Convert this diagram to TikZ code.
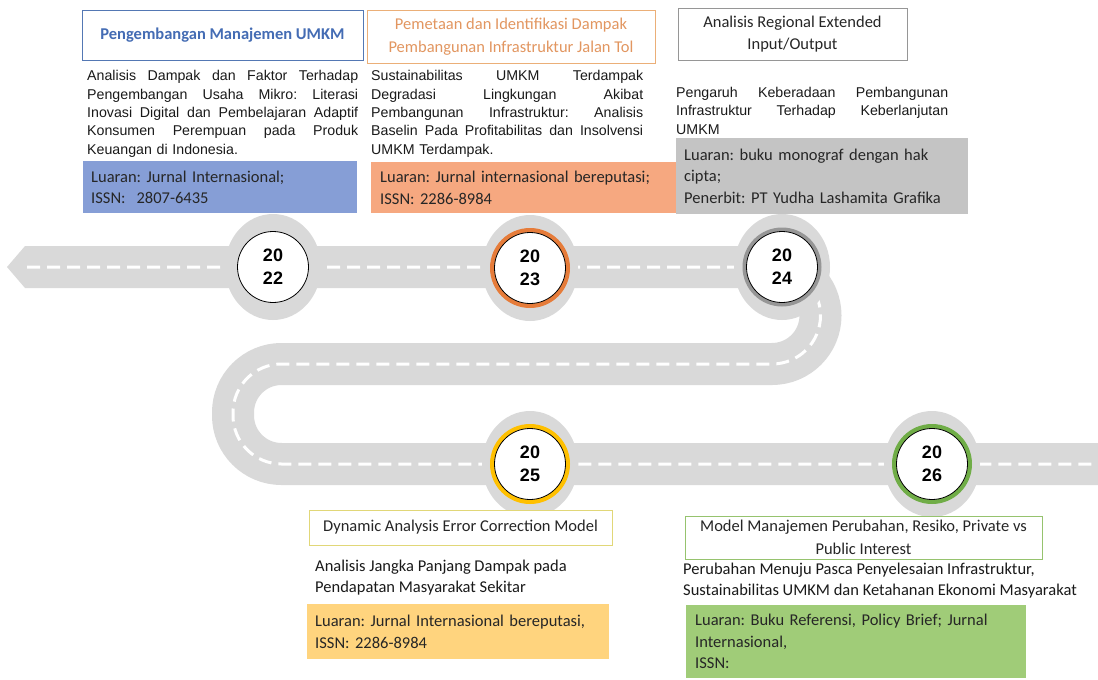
\documentclass[tikz,border=0pt]{standalone}
\usepackage{fontspec}
\setmainfont{Carlito}
\newfontfamily\bodyfont{Liberation Sans}
\usepackage{xcolor}
\usepackage{tikz}
\usetikzlibrary{positioning, calc}
\frenchspacing

\definecolor{roadgray}{RGB}{217,217,217}
\definecolor{bluefill}{RGB}{134,158,214}
\definecolor{bluedraw}{RGB}{84,120,180}
\definecolor{bluetext}{RGB}{68,108,180}
\definecolor{orangefill}{RGB}{246,168,128}
\definecolor{orangedraw}{RGB}{235,175,120}
\definecolor{orangetext}{RGB}{226,150,96}
\definecolor{orangering}{RGB}{230,124,58}
\definecolor{grayfill}{RGB}{196,196,196}
\definecolor{graydraw}{RGB}{150,150,150}
\definecolor{grayring}{RGB}{150,150,150}
\definecolor{yellowfill}{RGB}{255,212,126}
\definecolor{yellowdraw}{RGB}{225,215,120}
\definecolor{yellowring}{RGB}{255,192,0}
\definecolor{greenfill}{RGB}{160,204,120}
\definecolor{greendraw}{RGB}{150,195,110}
\definecolor{greenring}{RGB}{112,173,71}

% justified line
\newcommand\jl[2]{{\spaceskip=0pt\xspaceskip=0pt\makebox[#1][s]{#2}}}

\begin{document}
\begin{tikzpicture}[
    x=1pt, y=-1pt,
    title/.style={draw, fill=white, line width=0.9pt, align=center, inner sep=0pt,
        font=\fontsize{16.5}{22.5}\selectfont, text=black!85},
    body/.style={anchor=north west, inner sep=0pt, align=left,
        font=\bodyfont\fontsize{14.2}{18.3}\selectfont, text=black!90},
    lowbody/.style={anchor=north west, inner sep=0pt, align=left,
        font=\fontsize{16.5}{21.5}\selectfont, text=black!90},
    luaran/.style={anchor=north west, inner xsep=8pt, inner ysep=0pt, align=left,
        font=\fontsize{16.5}{21.5}\selectfont, text=black!85},
    road/.style={line width=42pt, draw=roadgray, rounded corners=48.5pt},
    lane/.style={line width=3pt, draw=white, dash pattern=on 13pt off 7pt,
        dash phase=18pt, rounded corners=48.5pt},
    year/.style={circle, draw=black, line width=0.8pt, fill=white, minimum size=71pt,
        inner sep=0pt, align=center, font=\bodyfont\bfseries\fontsize{18}{23}\selectfont}
]
\useasboundingbox (0,0) rectangle (1098,680);

% Road
\draw[road] (25,267) -- (820.5,267) -- (820.5,364) -- (233,364) -- (233,464) -- (1098,464);
\fill[roadgray] (25,246) -- (7,267) -- (25,288) -- cycle;
\draw[lane] (25,267) -- (820.5,267) -- (820.5,364) -- (233,364) -- (233,464) -- (1098,464);

% Milestones
\coordinate (c22) at (273,267);
\coordinate (c23) at (530,268);
\coordinate (c24) at (782,267);
\coordinate (c25) at (530,464);
\coordinate (c26) at (932,464);
\foreach \c in {c22,c23,c24,c25,c26}
    \fill[roadgray] (\c) ellipse[x radius=48pt, y radius=53pt];
\fill[orangering] (c23) circle[radius=40pt];
\fill[grayring] (c24) circle[radius=39.5pt];
\fill[yellowring] (c25) circle[radius=40pt];
\fill[greenring] (c26) circle[radius=40pt];
\node[year] (y22) at (c22) {20\\22};
\node[year] (y23) at (c23) {20\\23};
\node[year] (y24) at (c24) {20\\24};
\node[year] (y25) at (c25) {20\\25};
\node[year] (y26) at (c26) {20\\26};

% 2022
\node[title, draw=bluedraw, minimum width=281pt, minimum height=50pt,
    font=\bfseries\fontsize{16.5}{22.5}\selectfont, text=bluetext] (t22) at (222.5,35)
    {Pengembangan Manajemen UMKM};
\node[body, text width=271pt] (b22) at (87,70.4)
    {\jl{271pt}{Analisis Dampak dan Faktor Terhadap}\\
     \jl{271pt}{Pengembangan Usaha Mikro: Literasi}\\
     \jl{271pt}{Inovasi Digital dan Pembelajaran Adaptif}\\
     \jl{271pt}{Konsumen Perempuan pada Produk}\\
     Keuangan di Indonesia.};
\node[luaran, fill=bluefill, text width=258pt, minimum height=52pt] (l22) at (83,161)
    {Luaran: Jurnal Internasional;\\ISSN:~ 2807-6435};

% 2023
\node[title, draw=orangedraw, text=orangetext, minimum width=288pt, minimum height=53pt] (t23)
    at (511,36.5) {Pemetaan dan Identifikasi Dampak\\Pembangunan Infrastruktur Jalan Tol};
\node[body, text width=272pt] (b23) at (371,70.4)
    {\jl{272pt}{Sustainabilitas UMKM Terdampak}\\
     \jl{272pt}{Degradasi Lingkungan Akibat}\\
     \jl{272pt}{Pembangunan Infrastruktur: Analisis}\\
     \jl{272pt}{Baselin Pada Profitabilitas dan Insolvensi}\\
     UMKM Terdampak.};
\node[luaran, fill=orangefill, inner xsep=9pt, text width=287pt, minimum height=51pt] (l23)
    at (371,162) {Luaran: Jurnal internasional bereputasi;\\ISSN: 2286-8984};

% 2024
\node[title, draw=graydraw, minimum width=229pt, minimum height=52pt] (t24) at (792.5,34)
    {Analisis Regional Extended\\Input/Output};
\node[body, text width=272pt] (b24) at (676,87)
    {\jl{272pt}{Pengaruh Keberadaan Pembangunan}\\
     \jl{272pt}{Infrastruktur Terhadap Keberlanjutan}\\
     UMKM};
\node[luaran, fill=grayfill, text width=276pt, minimum height=76pt] (l24) at (676,138)
    {Luaran: buku monograf dengan hak\\cipta;\\Penerbit: PT Yudha Lashamita Grafika};

% 2025
\node[title, draw=yellowdraw, minimum width=303pt, minimum height=35pt] (t25) at (460.5,527.5)
    {Dynamic Analysis Error Correction Model};
\node[lowbody] (b25) at (315,559.4)
    {Analisis Jangka Panjang Dampak pada\\Pendapatan Masyarakat Sekitar};
\node[luaran, fill=yellowfill, text width=286pt, minimum height=55pt] (l25) at (307,604)
    {Luaran: Jurnal Internasional bereputasi,\\ISSN: 2286-8984};

% 2026
\node[title, draw=greendraw, minimum width=357pt, minimum height=43pt] (t26) at (863.5,537.5)
    {Model Manajemen Perubahan, Resiko, Private vs\\Public Interest};
\node[lowbody] (b26) at (683,562.4)
    {Perubahan Menuju Pasca Penyelesaian Infrastruktur,\\Sustainabilitas UMKM dan Ketahanan Ekonomi Masyarakat};
\node[luaran, fill=greenfill, inner xsep=9pt, text width=322pt, minimum height=73pt] (l26)
    at (686,605) {Luaran: Buku Referensi, Policy Brief; Jurnal\\Internasional,\\ISSN:};

\end{tikzpicture}
\end{document}
